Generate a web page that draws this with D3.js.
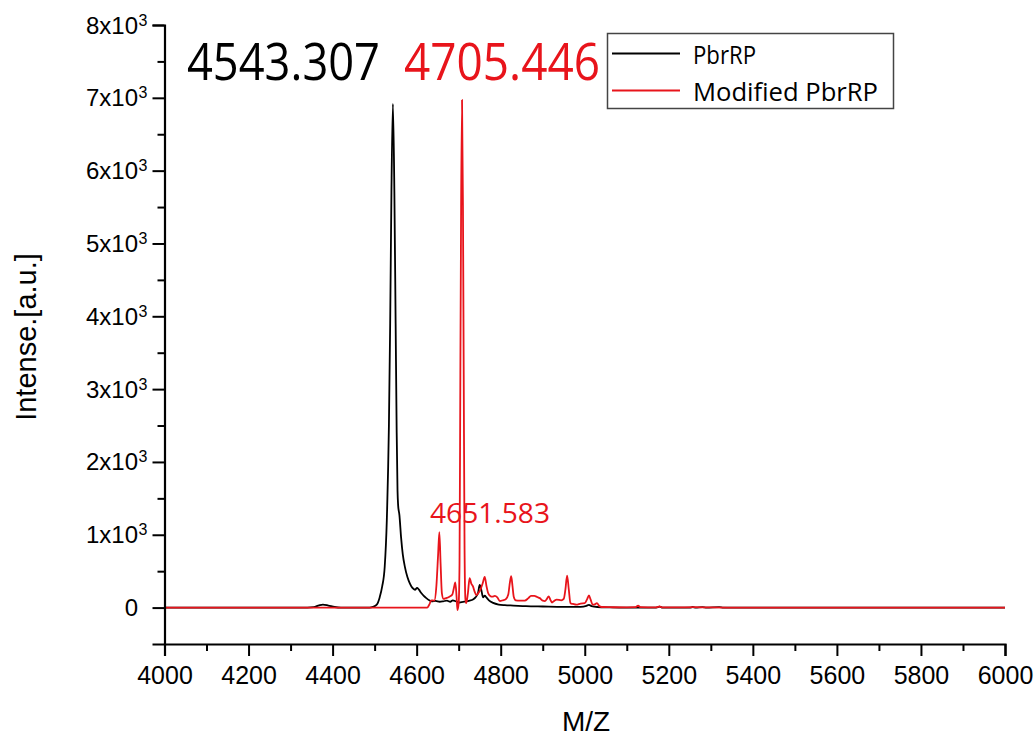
<!DOCTYPE html>
<html>
<head>
<meta charset="utf-8">
<script src="https://cdn.jsdelivr.net/npm/d3@7"></script>
<style>
  html, body { margin: 0; padding: 0; background: #fff; }
  svg { display: block; }
</style>
</head>
<body>
<script>
// ---------------- DATA ----------------
const xTicks = [4000, 4200, 4400, 4600, 4800, 5000, 5200, 5400, 5600, 5800, 6000];
const yTicks = [0, 1000, 2000, 3000, 4000, 5000, 6000, 7000, 8000];
const seriesNames = ["PbrRP", "Modified PbrRP"];
const peakLabels = ["4543.307", "4705.446", "4651.583"];
const xTitle = "M/Z";
const yTitle = "Intense.[a.u.]";

// [m/z, intensity]
const pbrRP = [
  [4000,0],[4340,0],[4355,6],[4368,32],[4377,42],[4390,28],[4405,8],[4420,0],[4488,0],
  [4496,10],[4505,40],[4512,140],[4518,290],[4524,560],[4529,1200],[4534,2500],[4537,3900],
  [4540,5700],[4543.5,6915],[4547,5700],[4550,3900],[4552.5,2400],[4554.5,1600],[4556,1400],
  [4559,1270],[4563,960],[4567,730],[4572,560],[4578,420],[4584,330],[4590,270],[4596,245],
  [4601,270],[4605,250],[4611,200],[4617,160],[4623,130],[4630,100],[4636,85],[4645,92],
  [4655,80],[4663,86],[4672,96],[4680,80],[4686,100],[4694,84],[4702,70],[4710,80],[4718,86],
  [4726,96],[4734,110],[4740,140],[4746,200],[4750,310],[4754,240],[4758,140],[4762,165],
  [4766,140],[4772,100],[4782,65],[4795,42],[4810,33],[4830,28],[4860,20],[4900,15],[4950,10],
  [4990,10],[5004,24],[5010,38],[5016,20],[5030,8],[5060,3],[5100,0],[5170,0],[5178,12],
  [5185,0],[5250,0],[5257,8],[5264,0],[5280,6],[5290,0],[5320,5],[5330,0],[5400,0],[6000,0]
];

const modifiedPbrRP = [
  [4000,0],[4625,0],[4630,40],[4635,100],[4642,95],[4647,300],[4651,720],[4654,1035],
  [4657,600],[4660,200],[4664,120],[4670,130],[4678,150],[4685,180],[4689,280],[4692,345],
  [4695,150],[4697,-35],[4700,60],[4702,600],[4704,3200],[4705.8,5500],[4708,6970],
  [4710.2,5500],[4712,3200],[4714,800],[4716,120],[4718,60],[4722,200],[4726,405],[4730,330],
  [4734,290],[4738,220],[4742,170],[4747,200],[4752,250],[4757,330],[4762,420],[4766,300],
  [4770,200],[4775,160],[4780,150],[4786,160],[4792,140],[4798,90],[4805,100],[4812,115],
  [4818,180],[4822,350],[4825,430],[4828,300],[4831,150],[4836,100],[4845,95],[4857,95],
  [4866,130],[4872,160],[4880,160],[4887,145],[4893,130],[4900,95],[4905,90],[4910,120],
  [4914,155],[4918,110],[4922,70],[4928,95],[4933,110],[4944,100],[4950,120],[4954,250],
  [4958,440],[4962,250],[4966,60],[4972,50],[4980,40],[4990,55],[5000,60],[5006,120],
  [5010,166],[5014,110],[5019,40],[5024,45],[5029,62],[5034,25],[5040,8],[5060,5],[5100,3],
  [5120,5],[5127,25],[5133,5],[5170,3],[5178,15],[5185,2],[5220,3],[5260,5],[5300,2],
  [5400,0],[6000,0]
];

// ---------------- LAYOUT ----------------
const W = 1036, H = 737;
const RED = "#e8141b";

const svg = d3.select("body").append("svg")
  .attr("width", W).attr("height", H)
  .style("font-family", "'Liberation Sans', Arial, sans-serif");

const x = d3.scaleLinear().domain([4000, 6000]).range([164.5, 1005]);
const y = d3.scaleLinear().domain([-500, 8000]).range([644, 25]);

// ---------------- LINES ----------------
const line = d3.line()
  .x(d => x(d[0])).y(d => y(d[1]))
  .curve(d3.curveMonotoneX);

svg.append("path").datum(pbrRP)
  .attr("d", line).attr("fill", "none")
  .attr("stroke", "#000").attr("stroke-width", 1.8).attr("stroke-linejoin", "round");

svg.append("path").datum(modifiedPbrRP)
  .attr("d", line).attr("fill", "none")
  .attr("stroke", RED).attr("stroke-width", 1.8).attr("stroke-linejoin", "round");

// ---------------- AXES ----------------
const axisG = svg.append("g");
// X axis
const xAx = axisG.append("g").attr("transform", `translate(0,${y(-500)})`)
  .call(d3.axisBottom(x).tickValues(xTicks).tickSize(12).tickFormat(d3.format("d")));
const xMinor = d3.range(4100, 6000, 200);
axisG.append("g").attr("transform", `translate(0,${y(-500)})`)
  .call(d3.axisBottom(x).tickValues(xMinor).tickSize(7).tickFormat(""))
  .call(g => g.select(".domain").remove());
xAx.selectAll("text").attr("font-size", 25).attr("dy", 0).attr("y", 40)
  .attr("font-family", "'Liberation Sans', Arial, sans-serif").attr("fill", "#000");

// Y axis
const yAx = axisG.append("g").attr("transform", `translate(${x(4000)},0)`)
  .call(d3.axisLeft(y).tickValues(yTicks).tickSize(12).tickFormat(""));
const yMinor = d3.range(500, 8000, 1000);
axisG.append("g").attr("transform", `translate(${x(4000)},0)`)
  .call(d3.axisLeft(y).tickValues(yMinor).tickSize(7).tickFormat(""))
  .call(g => g.select(".domain").remove());

axisG.selectAll(".domain").attr("stroke", "#000").attr("stroke-width", 2.2);
axisG.selectAll(".tick line").attr("stroke", "#000").attr("stroke-width", 2);

// Y tick labels: N x10^3
const yl = svg.append("g").attr("font-size", 24).attr("fill", "#000");
yTicks.forEach(v => {
  const ty = y(v);
  if (v === 0) {
    yl.append("text").attr("x", 138).attr("y", ty + 8.5).attr("text-anchor", "end").text("0");
  } else {
    yl.append("text").attr("x", 138).attr("y", ty + 8.5).attr("text-anchor", "end")
      .text(`${v / 1000}x10`);
    yl.append("text").attr("x", 138.5).attr("y", ty + 0.5).attr("font-size", 16).text("3");
  }
});

// Axis titles
svg.append("text").attr("x", 586).attr("y", 731).attr("text-anchor", "middle")
  .attr("font-size", 28).attr("fill", "#000").text(xTitle);
svg.append("text").attr("transform", "translate(36,337) rotate(-90)")
  .attr("text-anchor", "middle").attr("font-size", 29).attr("fill", "#000").text(yTitle);

// ---------------- ANNOTATIONS ----------------
const ann = svg.append("g").style("font-family", "'Open Sans', 'Noto Sans', sans-serif");
ann.append("text").attr("x", 187).attr("y", 80).attr("font-size", 51)
  .attr("textLength", 193).attr("lengthAdjust", "spacingAndGlyphs")
  .attr("fill", "#000").text(peakLabels[0]);
ann.append("text").attr("x", 404).attr("y", 80).attr("font-size", 51)
  .attr("textLength", 196).attr("lengthAdjust", "spacingAndGlyphs")
  .attr("fill", RED).text(peakLabels[1]);
ann.append("text").attr("x", 430).attr("y", 523).attr("font-size", 28)
  .attr("textLength", 120).attr("lengthAdjust", "spacingAndGlyphs")
  .attr("fill", RED).text(peakLabels[2]);

// ---------------- LEGEND ----------------
const lg = svg.append("g").style("font-family", "'Open Sans', 'Noto Sans', sans-serif");
lg.append("rect").attr("x", 607.5).attr("y", 33.5).attr("width", 286).attr("height", 75)
  .attr("fill", "#fff").attr("stroke", "#444").attr("stroke-width", 1.5);
const legendColors = ["#000", RED];
const legendY = [53.5, 90.5];
const legendLen = [63, 185];
seriesNames.forEach((n, i) => {
  lg.append("line").attr("x1", 612).attr("x2", 680).attr("y1", legendY[i]).attr("y2", legendY[i])
    .attr("stroke", legendColors[i]).attr("stroke-width", 1.8);
  lg.append("text").attr("x", 693).attr("y", legendY[i] + 10).attr("font-size", 26)
    .attr("textLength", legendLen[i]).attr("lengthAdjust", "spacingAndGlyphs")
    .attr("fill", "#000").text(n);
});
</script>
</body>
</html>
